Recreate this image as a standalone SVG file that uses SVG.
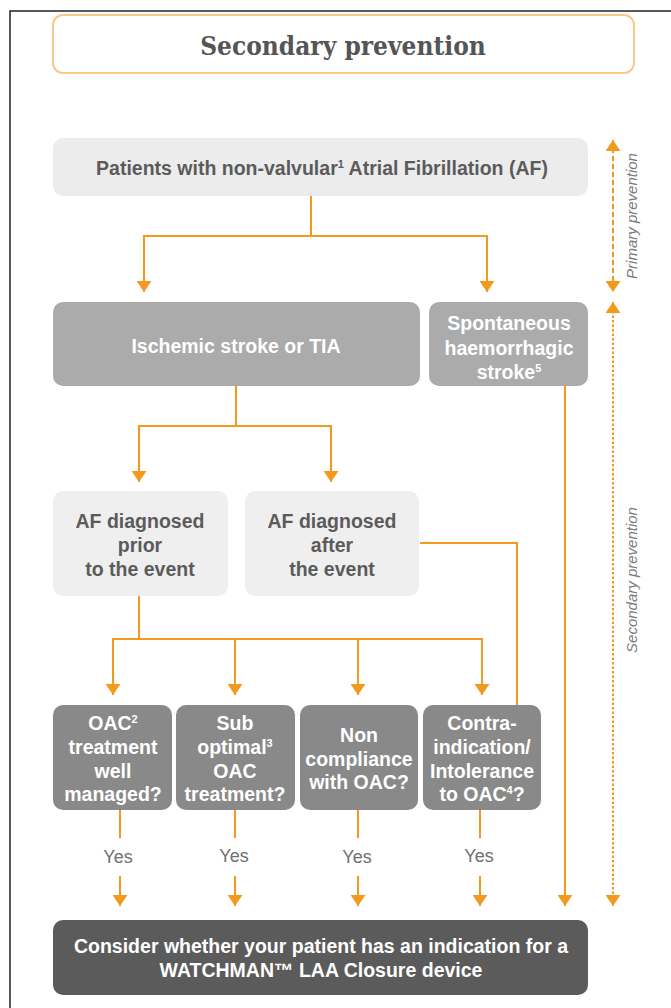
<svg xmlns="http://www.w3.org/2000/svg" width="671" height="1008" viewBox="0 0 671 1008">
<defs>
<marker id="arr" markerUnits="userSpaceOnUse" markerWidth="11" markerHeight="15" refX="11" refY="7.5" orient="auto" viewBox="0 0 11 15">
<path d="M0,0 L11,7.5 L0,15 Z" fill="#f39a1e"/>
</marker>
<marker id="arrs" markerUnits="userSpaceOnUse" markerWidth="11" markerHeight="15" refX="11" refY="7.5" orient="auto-start-reverse" viewBox="0 0 11 15">
<path d="M0,0 L11,7.5 L0,15 Z" fill="#f39a1e"/>
</marker>
</defs>
<style>
.frame{fill:none;stroke:#222;stroke-width:1.5}
.title{font-family:"DejaVu Serif Condensed","DejaVu Serif",serif;font-weight:bold;font-size:26px;fill:#555}
.t{font-family:"Liberation Sans",Arial,sans-serif;font-weight:bold;font-size:19.5px;text-anchor:middle}
.dk{fill:#5b5b5b}
.wh{fill:#ffffff}
.yes{font-family:"Liberation Sans",Arial,sans-serif;font-size:18px;fill:#707070;text-anchor:middle}
.side{font-family:"Liberation Sans",Arial,sans-serif;font-style:italic;font-size:15px;fill:#7a7a7a;text-anchor:middle}
.c{fill:none;stroke:#f39a1e;stroke-width:2}
.d1{fill:none;stroke:#f39a1e;stroke-width:2;stroke-dasharray:5 3}
.d2{fill:none;stroke:#f39a1e;stroke-width:2;stroke-dasharray:2.5 2}
.sup{font-size:11px}
</style>
<rect width="671" height="1008" fill="#ffffff"/>
<path class="frame" d="M10,1008 L10,11 L671,11"/>

<g id="title">
<rect x="53" y="15" width="581" height="58" rx="10" fill="#fff" stroke="#f8c98a" stroke-width="2"/>
<text class="title" x="343" y="55" text-anchor="middle">Secondary prevention</text>
</g>

<g id="patients">
<rect x="53" y="138" width="535" height="58" rx="10" fill="#ececec"/>
<text class="t dk" x="322" y="175">Patients with non-valvular<tspan class="sup" dy="-7">1</tspan><tspan dy="7"> Atrial Fibrillation (AF)</tspan></text>
</g>

<g id="ischemic">
<rect x="53" y="302" width="367" height="84" rx="10" fill="#ababab"/>
<text class="t wh" x="236" y="353">Ischemic stroke or TIA</text>
</g>

<g id="haemorrhagic">
<rect x="429" y="302" width="159" height="84" rx="10" fill="#ababab"/>
<text class="t wh" x="509" y="330">Spontaneous</text>
<text class="t wh" x="509" y="355">haemorrhagic</text>
<text class="t wh" x="509" y="379">stroke<tspan class="sup" dy="-7">5</tspan></text>
</g>

<g id="prior">
<rect x="53" y="491" width="175" height="105" rx="10" fill="#efefef"/>
<text class="t dk" x="140" y="528">AF diagnosed</text>
<text class="t dk" x="140" y="552">prior</text>
<text class="t dk" x="140" y="576">to the event</text>
</g>

<g id="after">
<rect x="245" y="491" width="174" height="105" rx="10" fill="#efefef"/>
<text class="t dk" x="332" y="528">AF diagnosed</text>
<text class="t dk" x="332" y="552">after</text>
<text class="t dk" x="332" y="576">the event</text>
</g>

<g id="wellmanaged">
<rect x="53" y="705" width="119" height="105" rx="10" fill="#898989"/>
<text class="t wh" x="113" y="730">OAC<tspan class="sup" dy="-7">2</tspan></text>
<text class="t wh" x="113" y="754">treatment</text>
<text class="t wh" x="113" y="778">well</text>
<text class="t wh" x="113" y="801">managed?</text>
</g>

<g id="suboptimal">
<rect x="176" y="705" width="119" height="105" rx="10" fill="#898989"/>
<text class="t wh" x="235" y="730">Sub</text>
<text class="t wh" x="235" y="754">optimal<tspan class="sup" dy="-7">3</tspan></text>
<text class="t wh" x="235" y="778">OAC</text>
<text class="t wh" x="235" y="801">treatment?</text>
</g>

<g id="noncompliance">
<rect x="300" y="705" width="118" height="105" rx="10" fill="#898989"/>
<text class="t wh" x="359" y="742">Non</text>
<text class="t wh" x="359" y="766">compliance</text>
<text class="t wh" x="359" y="789">with OAC?</text>
</g>

<g id="contra">
<rect x="423" y="705" width="118" height="105" rx="10" fill="#898989"/>
<text class="t wh" x="482" y="730">Contra-</text>
<text class="t wh" x="482" y="754">indication/</text>
<text class="t wh" x="482" y="778">Intolerance</text>
<text class="t wh" x="482" y="801">to OAC<tspan class="sup" dy="-7">4</tspan><tspan dy="7">?</tspan></text>
</g>

<g id="watchman">
<rect x="53" y="920" width="535" height="75" rx="10" fill="#5b5b5b"/>
<text class="t wh" x="321" y="953">Consider whether your patient has an indication for a</text>
<text class="t wh" x="321" y="977">WATCHMAN™ LAA Closure device</text>
</g>

<g id="connectors">
<path class="c" d="M311,196 V236 M143,236 H488"/>
<path class="c" d="M144,236 V292" marker-end="url(#arr)"/>
<path class="c" d="M487,236 V292" marker-end="url(#arr)"/>
<path class="c" d="M236,386 V426 M138,426 H332"/>
<path class="c" d="M139,426 V482" marker-end="url(#arr)"/>
<path class="c" d="M331,426 V482" marker-end="url(#arr)"/>
<path class="c" d="M139,596 V639 M112,639 H483"/>
<path class="c" d="M113,639 V695" marker-end="url(#arr)"/>
<path class="c" d="M235,639 V695" marker-end="url(#arr)"/>
<path class="c" d="M358,639 V695" marker-end="url(#arr)"/>
<path class="c" d="M482,639 V695" marker-end="url(#arr)"/>
<path class="c" d="M420,543 H517 V705"/>
<path class="c" d="M565,386 V906" marker-end="url(#arr)"/>
<path class="c" d="M120,810 V838 M235,810 V838 M358,810 V838 M480,810 V838"/>
<path class="c" d="M120,876 V906" marker-end="url(#arr)"/>
<path class="c" d="M235,876 V906" marker-end="url(#arr)"/>
<path class="c" d="M358,876 V906" marker-end="url(#arr)"/>
<path class="c" d="M480,876 V906" marker-end="url(#arr)"/>
<text class="yes" x="118" y="863">Yes</text>
<text class="yes" x="234" y="862">Yes</text>
<text class="yes" x="357" y="863">Yes</text>
<text class="yes" x="479" y="862">Yes</text>
<path class="d1" d="M613,140 V292" marker-start="url(#arrs)" marker-end="url(#arrs)"/>
<path class="d2" d="M613,302 V906" marker-start="url(#arrs)" marker-end="url(#arrs)"/>
<text class="side" transform="translate(637,216) rotate(-90)">Primary prevention</text>
<text class="side" transform="translate(637,580) rotate(-90)">Secondary prevention</text>
</g>
</svg>
